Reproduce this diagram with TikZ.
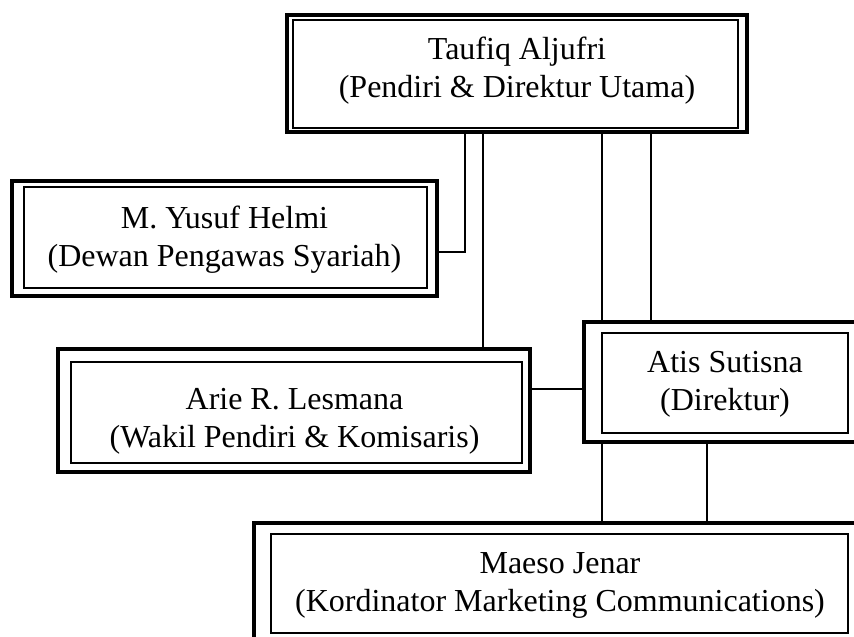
\documentclass[tikz,border=0pt]{standalone}
\usepackage{fontspec}
\setmainfont{Liberation Serif}
\begin{document}
\begin{tikzpicture}[x=1pt,y=-1pt,
  obox/.style={draw,line width=3.6pt,inner sep=0pt,outer sep=0pt},
  ibox/.style={draw,line width=1.2pt,inner sep=0pt,outer sep=0pt},
  lbl/.style={font=\fontsize{32}{38}\selectfont,align=center,inner sep=0pt,anchor=base},
  conn/.style={line width=1.3pt}]
\useasboundingbox (0,0) rectangle (854,637);
% outer boxes
\node[obox,minimum width=460pt,minimum height=117pt] (taufiq) at (517,73.5) {};
\node[obox,minimum width=425pt,minimum height=115pt] (yusuf) at (224.5,238.5) {};
\node[obox,minimum width=472pt,minimum height=123pt] (arie) at (294,410.5) {};
\node[obox,minimum width=276pt,minimum height=120pt] (atis) at (722,382) {};
\node[obox,minimum width=606pt,minimum height=122pt] (maeso) at (557,584) {};
% inner boxes
\node[ibox,minimum width=445pt,minimum height=108pt] (taufiqin) at (515.5,74) {};
\node[ibox,minimum width=403pt,minimum height=101pt] (yusufin) at (225.5,237.5) {};
\node[ibox,minimum width=451pt,minimum height=101pt] (ariein) at (296.5,412.5) {};
\node[ibox,minimum width=246pt,minimum height=100pt] (atisin) at (725,383) {};
\node[ibox,minimum width=577pt,minimum height=99pt] (maesoin) at (559.5,583.5) {};
% labels (anchored at the baseline of the last line)
\node[lbl] (taufiqt) at (517,97) {Taufiq Aljufri\\(Pendiri \& Direktur Utama)};
\node[lbl] (yusuft) at (224.5,266) {M. Yusuf Helmi\\(Dewan Pengawas Syariah)};
\node[lbl] (ariet) at (294.5,447) {Arie R. Lesmana\\(Wakil Pendiri \& Komisaris)};
\node[lbl] (atist) at (725,410) {Atis Sutisna\\(Direktur)};
\node[lbl] (maesot) at (560,611) {Maeso Jenar\\(Kordinator Marketing Communications)};
% connector guides
\coordinate (xa) at (465,0);
\coordinate (xb) at (483,0);
\coordinate (xc) at (602,0);
\coordinate (xd) at (651,0);
\coordinate (xe) at (707,0);
\coordinate (ya) at (0,252);
\coordinate (yb) at (0,389);
% connectors
\draw[conn] (taufiq.south -| xa) |- (yusuf.east |- ya);
\draw[conn] (taufiq.south -| xb) -- (arie.north -| xb);
\draw[conn] (taufiq.south -| xc) -- (atis.north -| xc);
\draw[conn] (taufiq.south -| xd) -- (atis.north -| xd);
\draw[conn] (arie.east |- yb) -- (atis.west |- yb);
\draw[conn] (atis.south -| xc) -- (maeso.north -| xc);
\draw[conn] (atis.south -| xe) -- (maeso.north -| xe);
\end{tikzpicture}
\end{document}
